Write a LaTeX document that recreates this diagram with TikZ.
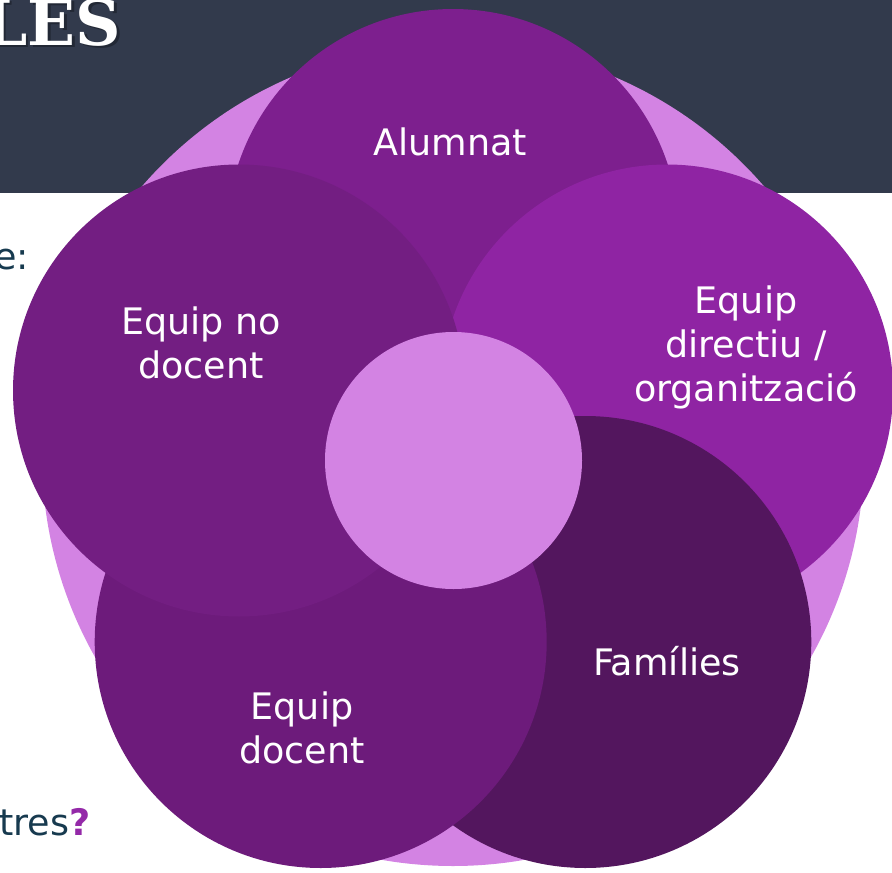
\documentclass[tikz,border=0pt]{standalone}
\usepackage{fontspec}
\setmainfont{DejaVu Sans}
\newfontfamily\titlefont{DejaVu Serif}
\definecolor{header}{HTML}{323A4C}
\definecolor{light}{HTML}{D383E3}
\definecolor{calum}{HTML}{7D1F8E}
\definecolor{cdir}{HTML}{8F24A3}
\definecolor{cfam}{HTML}{53165E}
\definecolor{cdoc}{HTML}{6D1B7B}
\definecolor{cnodoc}{HTML}{731E82}
\definecolor{navy}{HTML}{173A4F}
\definecolor{qpurple}{HTML}{9429A8}
\tikzset{
  petal/.style={circle, inner sep=0pt, minimum size=452pt, draw=none},
  lbl/.style={text=white, align=center, inner sep=0pt, font=\fontsize{36.5}{44}\selectfont},
  side/.style={text=navy, inner sep=0pt, font=\fontsize{36.5}{44}\selectfont},
  titletext/.style={anchor=base east, inner sep=0pt, font=\titlefont\bfseries\fontsize{63}{70}\selectfont}
}
\begin{document}
\begin{tikzpicture}[x=1pt,y=-1pt]
\useasboundingbox (0,0) rectangle (892,873);
% header band
\fill[header] (0,0) rectangle (892,193);
\node[titletext, text=black, opacity=0.3] (titleshadow) at (124,47.5) {LES};
\node[titletext, text=white] (title) at (121.5,45) {LES};
% side texts
\node[side, anchor=base east] (txte) at (29,269) {e:};
\node[side, anchor=base west] (txttres) at (-1,835) {tres\textcolor{qpurple}{\bfseries ?}};
% big background circle
\node[circle, inner sep=0pt, minimum size=822pt, fill=light] (big) at (453,455) {};
% petals
\node[petal, fill=calum] (alumnat) at (453,235) {};
\node[petal, fill=cdir] (directiu) at (667,390.5) {};
\node[petal, fill=cfam] (families) at (585.3,642) {};
\node[petal, fill=cdoc] (docent) at (320.7,642) {};
\node[petal, fill=cnodoc] (nodocent) at (239,390.5) {};
% centre
\node[circle, inner sep=0pt, minimum size=257pt, fill=light] (centre) at (453.5,460.5) {};
% labels
\node[lbl, anchor=base] (lalumnat) at (450,155) {Alumnat};
\node[lbl] (ldirectiu) at (746,347.5) {Equip\\directiu /\\organització};
\node[lbl, anchor=base] (lfamilies) at (667,675) {Famílies};
\node[lbl] (ldocent) at (302,728) {Equip\\docent};
\node[lbl] (lnodocent) at (201,343) {Equip no\\docent};
\end{tikzpicture}
\end{document}
